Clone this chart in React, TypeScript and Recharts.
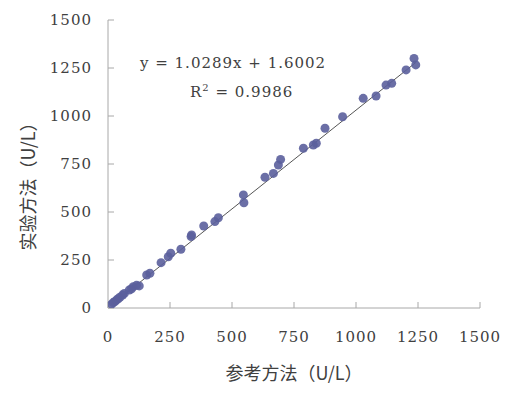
import React from "react";
import { ScatterChart, Scatter, XAxis, YAxis, Label } from "recharts";

// reference method (x) vs experimental method (y), U/L
const refValues = [
  15, 21, 28, 35, 41, 48, 59, 66, 86, 95, 102, 115, 126, 156, 169, 214, 243, 253,
  294, 335, 337, 386, 431, 445, 546, 548, 633, 667, 687, 696, 788, 828, 840, 875,
  946, 1029, 1081, 1121, 1144, 1202, 1234, 1241,
];
const testValues = [
  20, 28, 34, 42, 48, 56, 68, 76, 94, 100, 111, 118, 115, 172, 181, 236, 267, 285,
  306, 372, 380, 427, 450, 470, 589, 548, 681, 701, 745, 774, 832, 849, 858, 936,
  996, 1092, 1104, 1161, 1170, 1240, 1300, 1266,
];
const axisTicks = [0, 250, 500, 750, 1000, 1250, 1500];

const slope = 1.0289;
const intercept = 1.6002;
const equationText = "y = 1.0289x + 1.6002";
const r2Value = "0.9986";

const points = refValues.map((x, i) => ({ x, y: testValues[i] }));
const xMin = Math.min(...refValues);
const xMax = Math.max(...refValues);
const trend = [
  { x: xMin, y: slope * xMin + intercept },
  { x: xMax, y: slope * xMax + intercept },
];

const tickFont = {
  fontFamily: "'DejaVu Serif', serif",
  fontSize: 15,
  letterSpacing: 1,
  fill: "#404040",
};

const titleFont = "'Noto Sans CJK SC', sans-serif";

const Dot = (props: any) => (
  <circle cx={props.cx} cy={props.cy} r={4.5} fill="#5b5f9c" fillOpacity={0.9} />
);

const YTitle = (props: any) => {
  const vb = props.viewBox || { x: 0, y: 0, height: 0 };
  const cx = 27;
  const cy = vb.y + vb.height / 2 + 18;
  return (
    <text
      x={cx}
      y={cy}
      transform={`rotate(-90 ${cx} ${cy})`}
      textAnchor="middle"
      dominantBaseline="central"
      fontFamily={titleFont}
      fontSize={18}
      fill="#404040"
    >
      实验方法（U/L）
    </text>
  );
};

export default function App() {
  return (
    <div style={{ position: "absolute", left: 0, top: 0, width: 508, height: 396, background: "#fff" }}>
      <ScatterChart width={508} height={396} margin={{ top: 20, right: 28, bottom: 0, left: 8 }}>
        <XAxis
          type="number"
          dataKey="x"
          domain={[0, 1500]}
          ticks={axisTicks}
          interval={0}
          height={88}
          stroke="#a8a8a8"
          tickSize={-6}
          tickMargin={29}
          tick={tickFont}
          allowDataOverflow
        >
          <Label
            value="参考方法（U/L）"
            position="insideBottom"
            offset={16}
            style={{ fontFamily: titleFont, fontSize: 18, fill: "#404040" }}
          />
        </XAxis>
        <YAxis
          type="number"
          dataKey="y"
          domain={[0, 1500]}
          ticks={axisTicks}
          interval={0}
          width={100}
          stroke="#a8a8a8"
          tickSize={-6}
          tickMargin={22}
          tick={tickFont}
          allowDataOverflow
        >
          <Label content={<YTitle />} />
        </YAxis>
        <Scatter
          data={trend}
          line={{ stroke: "#555", strokeWidth: 1 }}
          shape={() => <g />}
          isAnimationActive={false}
        />
        <Scatter data={points} shape={<Dot />} isAnimationActive={false} />
      </ScatterChart>
      <div
        style={{
          position: "absolute",
          left: 140,
          top: 52,
          fontFamily: "'DejaVu Serif', serif",
          fontSize: 15,
          letterSpacing: 1,
          color: "#404040",
          whiteSpace: "pre",
          lineHeight: "22px",
        }}
      >
        {equationText}
      </div>
      <div
        style={{
          position: "absolute",
          left: 190,
          top: 77,
          fontFamily: "'DejaVu Serif', serif",
          fontSize: 15,
          letterSpacing: 1,
          color: "#404040",
          whiteSpace: "pre",
          lineHeight: "22px",
        }}
      >
        R<sup style={{ fontSize: 10, verticalAlign: "6px" }}>2</sup> = {r2Value}
      </div>
    </div>
  );
}
